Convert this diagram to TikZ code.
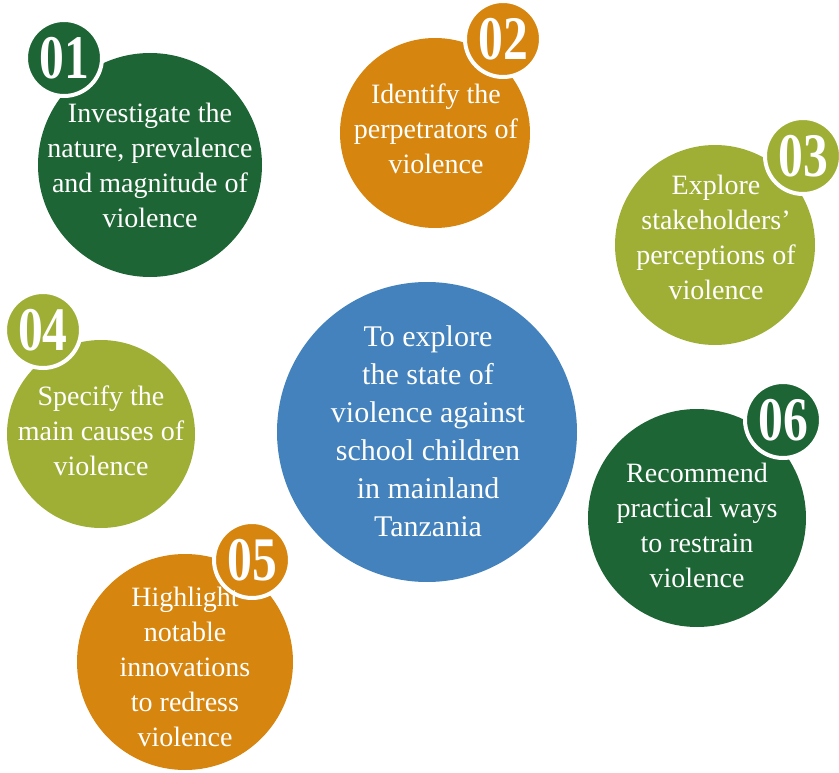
\documentclass[tikz,border=0pt]{standalone}
\usepackage{fontspec}
\setmainfont{Liberation Serif}
\usepackage{graphicx}
\definecolor{forestgrn}{HTML}{1D6534}
\definecolor{amber}{HTML}{D6850F}
\definecolor{leafgrn}{HTML}{9FAF36}
\definecolor{steelblu}{HTML}{4382BC}
\tikzset{
  disc/.style={circle, inner sep=0pt, minimum size=#1},
  blurb/.style={text=white, align=center, font=\fontsize{28}{35}\selectfont},
  badge/.style={circle, draw=white, line width=4pt, inner sep=0pt, minimum size=76pt,
    text=white, font=\fontsize{62}{62}\selectfont\bfseries}
}
\newcommand{\numtag}[1]{\scalebox{0.8}[1]{#1}}
\begin{document}
\begin{tikzpicture}[x=1pt,y=-1pt]
        \useasboundingbox (0,0) rectangle (839,773);

        \node[disc=224pt, fill=forestgrn] (c1) at (150,165) {};
        \node[disc=190pt, fill=amber] (c2) at (435,133) {};
        \node[disc=200pt, fill=leafgrn] (c3) at (715,245) {};
        \node[disc=188pt, fill=leafgrn] (c4) at (101,434) {};
        \node[disc=300pt, fill=steelblu] (c0) at (427,432) {};
        \node[disc=216pt, fill=amber] (c5) at (185,662) {};
        \node[disc=218pt, fill=forestgrn] (c6) at (697,518) {};

        \node[badge, fill=forestgrn] (b1) at (64,58) {\numtag{01}};
        \node[badge, fill=amber] (b2) at (503,39) {\numtag{02}};
        \node[badge, fill=leafgrn] (b3) at (803,156) {\numtag{03}};
        \node[badge, fill=leafgrn] (b4) at (43,330) {\numtag{04}};
        \node[badge, fill=amber] (b5) at (252,560) {\numtag{05}};
        \node[badge, fill=forestgrn] (b6) at (783,420) {\numtag{06}};

        \node[blurb] (t1) at (150,165) {Investigate the\\nature, prevalence\\and magnitude of\\violence};
        \node[blurb] (t2) at (436,129) {Identify the\\perpetrators of\\violence};
        \node[blurb] (t3) at (716,237) {Explore\\stakeholders’\\perceptions of\\violence};
        \node[blurb] (t4) at (101,431) {Specify the\\main causes of\\violence};
        \node[blurb, font=\fontsize{30}{38}\selectfont] (t0) at (428,431) {To explore\\the state of\\violence against\\school children\\in mainland\\Tanzania};
        \node[blurb] (t5) at (185,667) {Highlight\\notable\\innovations\\to redress\\violence};
        \node[blurb] (t6) at (697,525) {Recommend\\practical ways\\to restrain\\violence};

        \end{tikzpicture}
\end{document}
